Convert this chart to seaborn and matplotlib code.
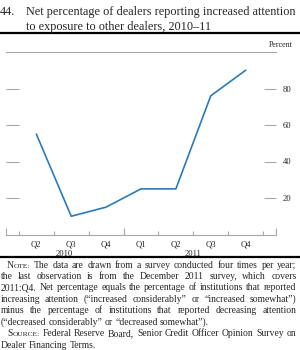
import matplotlib
matplotlib.use("Agg")
import matplotlib.pyplot as plt
import matplotlib.transforms as mtransforms
from matplotlib.lines import Line2D
import seaborn as sns
import pandas as pd

# ---- data ----
quarters = ["Q2", "Q3", "Q4", "Q1", "Q2", "Q3", "Q4"]
years = ["2010", "2010", "2010", "2011", "2011", "2011", "2011"]
net_pct = [55, 10, 15, 25, 25, 76, 90]
y_ticks = [20, 40, 60, 80]

title_num = "44."
title_lines = ["Net percentage of dealers reporting increased attention",
               "to exposure to other dealers, 2010\u201311"]
note_lines = [
    ("NOTE:", "The data are drawn from a survey conducted four times per year;", True, True),
    (None, "the last observation is from the December 2011 survey, which covers", False, True),
    (None, "2011:Q4. Net percentage equals the percentage of institutions that reported", False, True),
    (None, "increasing attention (\u201cincreased considerably\u201d or \u201cincreased somewhat\u201d)", False, True),
    (None, "minus the percentage of institutions that reported decreasing attention", False, True),
    (None, "(\u201cdecreased considerably\u201d or \u201cdecreased somewhat\u201d).", False, False),
    ("SOURCE:", "Federal Reserve Board, Senior Credit Officer Opinion Survey on", True, True),
    (None, "Dealer Financing Terms.", False, False),
]

sns.set_style("white")
plt.rcParams["font.family"] = ["Liberation Serif", "DejaVu Serif"]

W, H = 300, 350
fig = plt.figure(figsize=(W / 100, H / 100), dpi=100)
renderer = fig.canvas.get_renderer()

def fx(px):
    return px / W

def fy(py):
    return 1 - py / H

def width_px(t):
    return t.get_window_extent(renderer).width

def size_for(text, target_px):
    t = fig.text(0, 0, text, fontsize=10)
    w = width_px(t)
    t.remove()
    return 10 * target_px / w

ax_left, ax_right, ax_top, ax_bot = 6, 276, 52, 234.5
ax = fig.add_axes([fx(ax_left), fy(ax_bot), fx(ax_right - ax_left), (ax_bot - ax_top) / H])

df = pd.DataFrame({"idx": list(range(len(net_pct))), "value": net_pct})
sns.lineplot(data=df, x="idx", y="value", ax=ax, color="#2a7bba", linewidth=1.2)

ax.set_xlim(-0.87, 6.87)
ax.set_ylim(0, 100)
ax.set_xlabel("")
ax.set_ylabel("")

grey = "#a8a8a8"
for s in ["left", "right"]:
    ax.spines[s].set_visible(False)
for s in ["top", "bottom"]:
    ax.spines[s].set_visible(True)
    ax.spines[s].set_color(grey)
    ax.spines[s].set_linewidth(0.8)

lab_size = size_for("Percent", 24) * 1.08

# y ticks: inward both sides, labels on right
ax.set_yticks(y_ticks)
ax.set_yticklabels([str(v) for v in y_ticks])
ax.tick_params(axis="y", which="major", direction="in", length=9, width=0.8, color=grey,
               left=True, right=True, labelleft=False, labelright=True, pad=5, labelsize=lab_size)

# x: labels at quarter centers, boundary ticks as minor
ax.set_xticks(list(range(len(quarters))))
ax.set_xticklabels(quarters)
ax.tick_params(axis="x", which="major", length=0, pad=4, labelsize=lab_size)
ax.set_xticks([i - 0.5 for i in range(len(quarters) + 1)], minor=True)
ax.tick_params(axis="x", which="minor", direction="in", length=3, width=0.8, color=grey,
               top=False, bottom=True)

# taller ticks at year boundary and ends
trans = mtransforms.blended_transform_factory(ax.transData, ax.transAxes)
xl = ax.get_xlim()
tall = [xl[0], 2.5, xl[1]]
ax.vlines(tall, 0, 7 / (ax_bot - ax_top), transform=trans, colors=grey, linewidth=0.8, clip_on=False)

# year labels centered on visible portion of each year
year_centers = {"2010": (xl[0] + 2.5) / 2, "2011": (2.5 + 6.5) / 2}
for yr, xc in year_centers.items():
    ax.text(xc, -0.105, yr, transform=trans, ha="center", va="center", fontsize=lab_size)

# "Percent"
fig.text(fx(293), fy(45), "Percent", ha="right", va="center", fontsize=lab_size * 0.93)

# title
tsize = min(size_for(title_lines[0], 268), size_for(title_lines[1], 190))
fig.text(fx(0), fy(12), title_num, ha="left", va="center", fontsize=tsize)
fig.text(fx(26), fy(12), title_lines[0], ha="left", va="center", fontsize=tsize)
fig.text(fx(26), fy(27), title_lines[1], ha="left", va="center", fontsize=tsize)

# rules
fig.add_artist(Line2D([0, 1], [fy(33), fy(33)], color="black", linewidth=1.6, transform=fig.transFigure))
fig.add_artist(Line2D([0, 1], [fy(257), fy(257)], color="black", linewidth=1.6, transform=fig.transFigure))

# notes with manual justification
nsize = size_for(note_lines[-1][1], 95)
baselines = [267.5 + 11.45 * i for i in range(len(note_lines))]

space_t = fig.text(0, 0, "a a", fontsize=nsize)
aa_t = fig.text(0, 0, "aa", fontsize=nsize)
space_w = width_px(space_t) - width_px(aa_t)
space_t.remove()
aa_t.remove()

for (lead, body, indent, justify), yb in zip(note_lines, baselines):
    x_start = 7 if indent else 0.5
    x_end = 296.5
    words = []
    if lead:
        t1 = fig.text(0, fy(yb), lead[0], fontsize=nsize, va="baseline", ha="left")
        t2 = fig.text(0, fy(yb), lead[1:], fontsize=nsize * 0.78, va="baseline", ha="left")
        words.append([t1, t2])
    for w in body.split(" "):
        t = fig.text(0, fy(yb), w, fontsize=nsize, va="baseline", ha="left")
        words.append([t])
    widths = [sum(width_px(s) for s in segs) for segs in words]
    total = sum(widths)
    if justify and len(words) > 1:
        gap = max((x_end - x_start - total) / (len(words) - 1), 1.0)
    else:
        gap = space_w
    x = x_start
    for segs, wdt in zip(words, widths):
        xx = x
        for s in segs:
            s.set_x(fx(xx))
            xx += width_px(s)
        x += wdt + gap

fig.savefig("out.png", dpi=100)
